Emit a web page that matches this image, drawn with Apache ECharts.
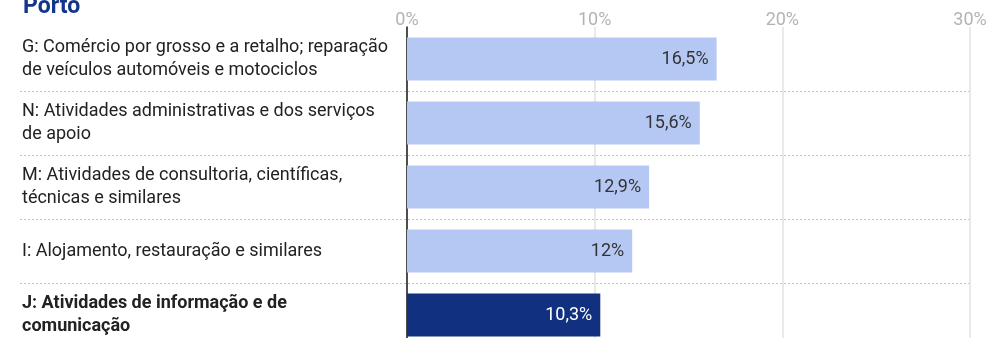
<!DOCTYPE html>
<html>
<head>
<meta charset="utf-8">
<script src="https://cdn.jsdelivr.net/npm/echarts@6/dist/echarts.min.js"></script>
<style>
  html, body { margin: 0; padding: 0; background: #fff; }
  #chart { width: 992px; height: 338px; }
</style>
</head>
<body>
<div id="chart"></div>
<script>
// Sectors (CAE sections), top to bottom
const categories = [
  'G: Comércio por grosso e a retalho; reparação\nde veículos automóveis e motociclos',
  'N: Atividades administrativas e dos serviços\nde apoio',
  'M: Atividades de consultoria, científicas,\ntécnicas e similares',
  'I: Alojamento, restauração e similares',
  'J: Atividades de informação e de\ncomunicação'
];
// Share of companies (%)
const shares = [16.5, 15.6, 12.9, 12, 10.3];
// Sector shown in the highlight colour
const highlighted = ['J: Atividades de informação e de\ncomunicação'];
// Axis ticks (%)
const tickValues = [0, 10, 20, 30];

const LIGHT = '#b5c8f4';
const DARK = '#11307f';
const FONT = 'Roboto, "Noto Sans", sans-serif';

const fmtPct = v => String(v).replace('.', ',') + '%';

const chart = echarts.init(document.getElementById('chart'), null, { renderer: 'canvas' });

chart.setOption({
  animation: false,
  backgroundColor: '#ffffff',
  title: {
    text: 'Porto',
    left: 18,
    top: -9,
    textStyle: { fontFamily: FONT, fontSize: 23, fontWeight: 'bold', color: '#15358a' }
  },
  grid: [
    // row separators spanning labels and plot
    { left: 20, right: 22, top: 27, height: 320, outerBoundsMode: 'none', containLabel: false },
    // bar plot
    { left: 407, right: 22, top: 27, height: 320, outerBoundsMode: 'none', containLabel: false }
  ],
  xAxis: [
    { gridIndex: 0, type: 'value', show: false, min: 0, max: 1 },
    {
      gridIndex: 1,
      type: 'value',
      position: 'top',
      min: tickValues[0],
      max: tickValues[tickValues.length - 1],
      interval: tickValues[1] - tickValues[0],
      axisLine: { show: false },
      axisTick: { show: false },
      axisLabel: {
        margin: -2,
        color: '#b3b3b3',
        fontFamily: FONT,
        fontSize: 18,
        formatter: v => v + '%'
      },
      splitLine: { show: true, lineStyle: { color: '#e2e2e2', width: 1.5 } }
    }
  ],
  yAxis: [
    {
      gridIndex: 0,
      type: 'category',
      inverse: true,
      data: categories,
      axisLine: { show: false },
      axisTick: { show: false },
      axisLabel: { show: false },
      splitLine: {
        show: true,
        interval: idx => idx !== 0,
        lineStyle: { color: '#c4c4c4', type: [2, 2], width: 1 }
      }
    },
    {
      gridIndex: 1,
      type: 'category',
      inverse: true,
      data: categories,
      axisLine: { show: true, lineStyle: { color: '#1a1a1a', width: 1.5 } },
      axisTick: { show: false },
      splitLine: { show: false },
      axisLabel: {
        margin: 385,
        align: 'left',
        formatter: v => highlighted.includes(v) ? '{b|' + v + '}' : '{n|' + v + '}',
        rich: {
          n: { fontFamily: FONT, fontSize: 18, color: '#222222', lineHeight: 23 },
          b: { fontFamily: FONT, fontSize: 18, fontWeight: 'bold', color: '#222222', lineHeight: 23 }
        }
      }
    }
  ],
  series: [
    {
      type: 'bar',
      xAxisIndex: 1,
      yAxisIndex: 1,
      barWidth: 43,
      data: shares.map((v, i) => {
        const hi = highlighted.includes(categories[i]);
        return {
          value: v,
          itemStyle: { color: hi ? DARK : LIGHT },
          label: { color: hi ? '#ffffff' : '#333333' }
        };
      }),
      label: {
        show: true,
        position: 'insideRight',
        distance: 8,
        fontFamily: FONT,
        fontSize: 18,
        formatter: p => fmtPct(p.value)
      }
    }
  ]
});
</script>
</body>
</html>
